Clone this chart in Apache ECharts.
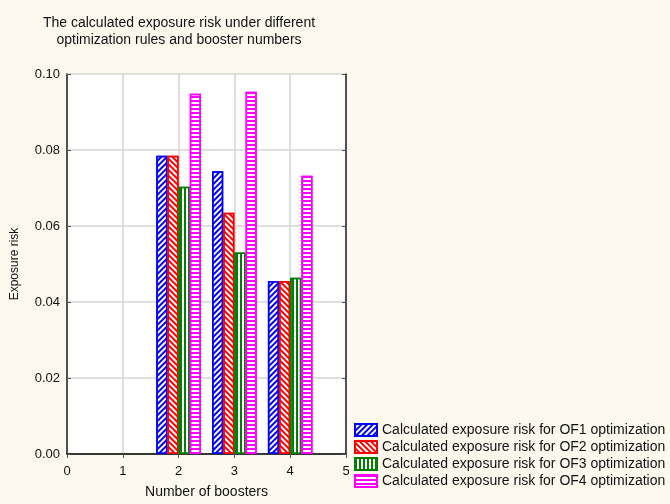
<!DOCTYPE html>
<html>
<head>
<meta charset="utf-8">
<script src="https://cdn.jsdelivr.net/npm/echarts@6/dist/echarts.min.js"></script>
<style>
  html, body { margin: 0; padding: 0; background: #fdf9ef; }
  #main { width: 670px; height: 504px; }
</style>
</head>
<body>
<div id="main"></div>
<script>
// x ticks (number of boosters) and the groups that carry bars
const xTicks = ['0', '1', '2', '3', '4', '5'];
const boosters = ['2', '3', '4'];

// exposure risk per optimization rule
const of1 = [0.0785, 0.0744, 0.0455];
const of2 = [0.0785, 0.0635, 0.0455];
const of3 = [0.0703, 0.0530, 0.0464];
const of4 = [0.0948, 0.0953, 0.0732];

const names = [
  'Calculated exposure risk for OF1 optimization',
  'Calculated exposure risk for OF2 optimization',
  'Calculated exposure risk for OF3 optimization',
  'Calculated exposure risk for OF4 optimization'
];
const colors = ['#0000ff', '#ff0000', '#008000', '#ff00ff'];

// hatch patterns: /, \, |, -
const decals = [
  { symbol: 'rect', dashArrayX: [1, 0], dashArrayY: [1.5, 2], rotation: -Math.PI / 4 },
  { symbol: 'rect', dashArrayX: [1, 0], dashArrayY: [1.5, 2], rotation: Math.PI / 4 },
  { symbol: 'rect', dashArrayX: [2, 2], dashArrayY: [1, 0], rotation: 0 },
  { symbol: 'rect', dashArrayX: [1, 0], dashArrayY: [2, 2], rotation: 0 }
];

function pairs(vals) {
  return boosters.map((b, i) => [b, vals[i]]);
}

const allData = [of1, of2, of3, of4];
const font = 'Liberation Sans';

const chart = echarts.init(document.getElementById('main'));
const option = {
  backgroundColor: '#fdf9ef',
  animation: false,
  title: {
    text: 'The calculated exposure risk under different\noptimization rules and booster numbers',
    left: 179,
    top: 15,
    padding: 0,
    textAlign: 'center',
    textStyle: { fontFamily: font, fontSize: 14, fontWeight: 'normal', color: '#111', lineHeight: 17 }
  },
  legend: {
    orient: 'vertical',
    left: 354,
    top: 423,
    padding: 0,
    icon: 'rect',
    itemWidth: 22,
    itemHeight: 12,
    itemGap: 3,
    data: names,
    textStyle: { fontFamily: font, fontSize: 14, color: '#111', lineHeight: 14 }
  },
  grid: {
    left: 67, right: 324, top: 74, bottom: 46,
    show: true,
    backgroundColor: '#ffffff',
    borderWidth: 0
  },
  xAxis: [
    {
      type: 'category',
      data: xTicks,
      boundaryGap: false,
      name: 'Number of boosters',
      nameLocation: 'middle',
      nameGap: 31,
      nameTextStyle: { fontFamily: font, fontSize: 14, color: '#111' },
      axisLine: { lineStyle: { color: '#555', width: 1.5 } },
      axisTick: { show: false },
      axisLabel: { fontFamily: font, fontSize: 13, color: '#111', margin: 11 },
      splitLine: { show: true, lineStyle: { color: '#d4d4d4', width: 1.5 } }
    },
    {
      type: 'category',
      data: xTicks,
      boundaryGap: false,
      position: 'top',
      axisLine: { lineStyle: { color: '#222', width: 1.5 } },
      axisTick: { show: true, inside: true, length: 4, lineStyle: { color: '#555' } },
      axisLabel: { show: false },
      splitLine: { show: false }
    }
  ],
  yAxis: [
    {
      type: 'value',
      min: 0,
      max: 0.1,
      interval: 0.02,
      name: 'Exposure risk',
      nameLocation: 'middle',
      nameGap: 46,
      nameTextStyle: { fontFamily: font, fontSize: 12, color: '#111' },
      axisLine: { show: true, lineStyle: { color: '#222', width: 1.5 } },
      axisTick: { show: true, inside: true, length: 4, lineStyle: { color: '#555' } },
      axisLabel: { fontFamily: font, fontSize: 13, color: '#111', margin: 7,
        formatter: v => v.toFixed(2) },
      splitLine: { show: true, lineStyle: { color: '#d4d4d4', width: 1.5 } }
    },
    {
      type: 'value',
      min: 0,
      max: 0.1,
      interval: 0.02,
      position: 'right',
      axisLine: { show: true, lineStyle: { color: '#222', width: 1.5 } },
      axisTick: { show: true, inside: true, length: 4, lineStyle: { color: '#555' } },
      axisLabel: { show: false },
      splitLine: { show: false }
    }
  ],
  series: names.map((n, k) => ({
    name: n,
    type: 'bar',
    xAxisIndex: 0,
    yAxisIndex: 0,
    barGap: '0%',
    barCategoryGap: '20%',
    data: pairs(allData[k]),
    itemStyle: {
      color: '#ffffff',
      borderColor: colors[k],
      borderWidth: 1.5,
      decal: Object.assign({ color: colors[k] }, decals[k])
    }
  }))
};
chart.setOption(option);
</script>
</body>
</html>
